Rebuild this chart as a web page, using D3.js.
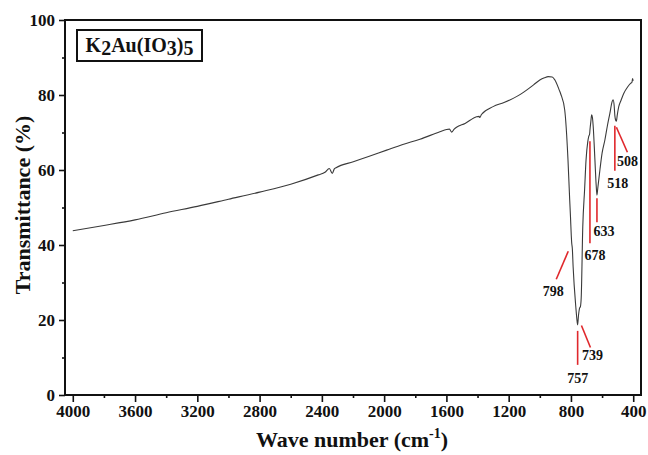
<!DOCTYPE html>
<html>
<head>
<meta charset="utf-8">
<script src="https://cdn.jsdelivr.net/npm/d3@7"></script>
<style>
  html, body { margin: 0; padding: 0; background: #fff; }
  svg { display: block; }
  text { font-family: "Liberation Serif", "Times New Roman", serif; font-weight: bold; fill: #111; }
</style>
</head>
<body>
<svg id="chart" width="648" height="455"></svg>
<script>
// FTIR spectrum of K2Au(IO3)5: wavenumber (cm^-1) and transmittance (%)
const wavenumbers = [
  4000, 3800, 3600, 3400, 3200, 3000, 2800, 2600,
  2423, 2380, 2352, 2333, 2320, 2309, 2198, 2100, 1984, 1880,
  1770, 1642, 1599, 1580, 1567, 1550, 1535, 1480, 1406, 1390,
  1385, 1375, 1300, 1230, 1171, 1120, 1085, 1040, 1000, 970,
  946, 920, 903, 875, 865, 840, 819, 808, 803, 798,
  795, 791, 786, 769, 760, 757, 752, 745, 739, 734,
  724, 712, 703, 692, 686, 680, 678, 672, 667, 662,
  657, 646, 638, 633, 628, 614, 600, 582, 565, 550,
  535, 529, 522, 518, 512, 508, 503, 493, 478, 461,
  435, 417, 408, 404, 400
];
const transmittance = [
  43.8, 45.2, 46.7, 48.6, 50.3, 52.2, 54.1, 56.2,
  58.7, 59.4, 60.4, 59.1, 60.3, 60.6, 62.2, 63.6, 65.3, 66.8,
  68.2, 70.2, 70.8, 70.9, 70.1, 70.9, 71.4, 72.4, 74.2, 74.3,
  74.0, 74.8, 76.9, 78.0, 79.1, 80.3, 81.3, 82.7, 84.0, 84.6,
  84.9, 84.8, 84.0, 81.3, 80.2, 76.0, 62.7, 52.0, 47.6, 42.6,
  40.5, 39.0, 34.2, 23.6, 19.5, 18.7, 21.0, 23.1, 23.6, 26.0,
  44.9, 55.0, 62.7, 67.5, 68.9, 69.6, 70.6, 73.0, 74.7, 74.0,
  71.6, 62.7, 56.0, 53.3, 55.0, 60.0, 64.5, 68.0, 72.0, 75.1,
  78.3, 78.7, 77.0, 74.5, 73.2, 73.0, 74.5, 76.9, 78.6, 80.4,
  82.2, 83.1, 83.4, 84.4, 83.8
];

// Assigned absorption bands (cm^-1)
const peakLabels = [798, 757, 739, 678, 633, 518, 508];

// Axis ticks
const xTickValues = [4000, 3600, 3200, 2800, 2400, 2000, 1600, 1200, 800, 400];
const yTickValues = [0, 20, 40, 60, 80, 100];

const sampleName = ["K", "2", "Au(IO", "3", ")", "5"];

// Leader-line geometry for each band label: start offset (dx0, dy0) from the
// spectrum point, end offset (dx1, dy1), and text offset from the line end.
const leaderStyle = {
  798: { dx0: -3, dy0: 16,  dx1: -15, dy1: 44, tx: -3, ty: 17 },
  757: { dx0: 0,  dy0: 6,   dx1: 0,   dy1: 40, tx: 0,  ty: 18 },
  739: { dx0: 1,  dy0: 19,  dx1: 10,  dy1: 41, tx: 2,  ty: 12 },
  678: { dx0: 0,  dy0: 11,  dx1: 0,   dy1: 113, tx: 5, ty: 17 },
  633: { dx0: 0,  dy0: 3,   dx1: 0,   dy1: 27, tx: 7,  ty: 14 },
  518: { dx0: 0,  dy0: 10,  dx1: 0,   dy1: 55, tx: 3,  ty: 17 },
  508: { dx0: 0,  dy0: 6,   dx1: 11,  dy1: 31, tx: 0,  ty: 14 }
};

const svg = d3.select("#chart");
const margin = { left: 65, right: 7, top: 20, bottom: 60 };
const W = 648, H = 455;

const x = d3.scaleLinear().domain([4050, 350]).range([margin.left, W - margin.right]);
const y = d3.scaleLinear().domain([0, 100]).range([H - margin.bottom, margin.top]);

const spectrum = wavenumbers.map((w, i) => ({ w, t: transmittance[i] }));
const tAt = w => transmittance[wavenumbers.indexOf(w)];

// Spectrum trace
svg.append("path")
  .datum(spectrum)
  .attr("fill", "none")
  .attr("stroke", "#3a3a3a")
  .attr("stroke-width", 1.1)
  .attr("d", d3.line().x(d => x(d.w)).y(d => y(d.t)).curve(d3.curveMonotoneX));

// Band leader lines and labels
peakLabels.forEach(w => {
  const s = leaderStyle[w];
  const px = x(w), py = y(tAt(w));
  const x0 = px + s.dx0, y0 = py + s.dy0, x1 = px + s.dx1, y1 = py + s.dy1;
  svg.append("line")
    .attr("x1", x0).attr("y1", y0).attr("x2", x1).attr("y2", y1)
    .attr("stroke", "#e0282c").attr("stroke-width", 1.6);
  svg.append("text")
    .attr("x", x1 + s.tx).attr("y", y1 + s.ty)
    .attr("text-anchor", "middle")
    .attr("font-size", 14)
    .text(w);
});

// Axes with major and minor ticks
const xMinor = d3.range(4000, 399, -200).filter(v => v % 400 !== 0);
const yMinor = d3.range(10, 100, 20);

const xAxis = svg.append("g").attr("transform", `translate(0,${H - margin.bottom})`);
xAxis.call(d3.axisBottom(x).tickValues(xMinor).tickSize(3).tickFormat(""));
xAxis.append("g").call(d3.axisBottom(x).tickValues(xTickValues).tickSize(7).tickPadding(3).tickFormat(d3.format("d")));

const yAxis = svg.append("g").attr("transform", `translate(${margin.left},0)`);
yAxis.call(d3.axisLeft(y).tickValues(yMinor).tickSize(3).tickFormat(""));
yAxis.append("g").call(d3.axisLeft(y).tickValues(yTickValues).tickSize(6).tickPadding(4));

svg.selectAll(".domain").remove();
svg.selectAll(".tick line").attr("stroke", "#111").attr("stroke-width", 1.6);
svg.selectAll(".tick text")
  .attr("font-family", "Liberation Serif, Times New Roman, serif")
  .attr("font-weight", "bold")
  .attr("font-size", 17)
  .attr("fill", "#111");

// Plot frame
svg.append("rect")
  .attr("x", margin.left).attr("y", margin.top)
  .attr("width", W - margin.left - margin.right)
  .attr("height", H - margin.top - margin.bottom)
  .attr("fill", "none").attr("stroke", "#111").attr("stroke-width", 2);

// Sample name box
svg.append("rect")
  .attr("x", 77).attr("y", 30).attr("width", 125).attr("height", 31)
  .attr("fill", "#fff").attr("stroke", "#111").attr("stroke-width", 2);
const name = svg.append("text").attr("x", 139.5).attr("y", 52)
  .attr("text-anchor", "middle").attr("font-size", 20);
sampleName.forEach((part, i) => {
  const sub = i % 2 === 1;
  name.append("tspan")
    .attr("dy", sub ? 3 : (i === 0 ? 0 : -3))
    .text(part);
});

// Axis titles
svg.append("text")
  .attr("x", 352).attr("y", 447)
  .attr("text-anchor", "middle").attr("font-size", 22)
  .text("Wave number (cm")
  .append("tspan").attr("dy", -9).attr("font-size", 14).text("-1")
  .select(function () { return this.parentNode; })
  .append("tspan").attr("dy", 9).text(")");

svg.append("text")
  .attr("transform", "translate(30,205) rotate(-90)")
  .attr("text-anchor", "middle").attr("font-size", 22)
  .text("Transmittance (%)");
</script>
</body>
</html>
